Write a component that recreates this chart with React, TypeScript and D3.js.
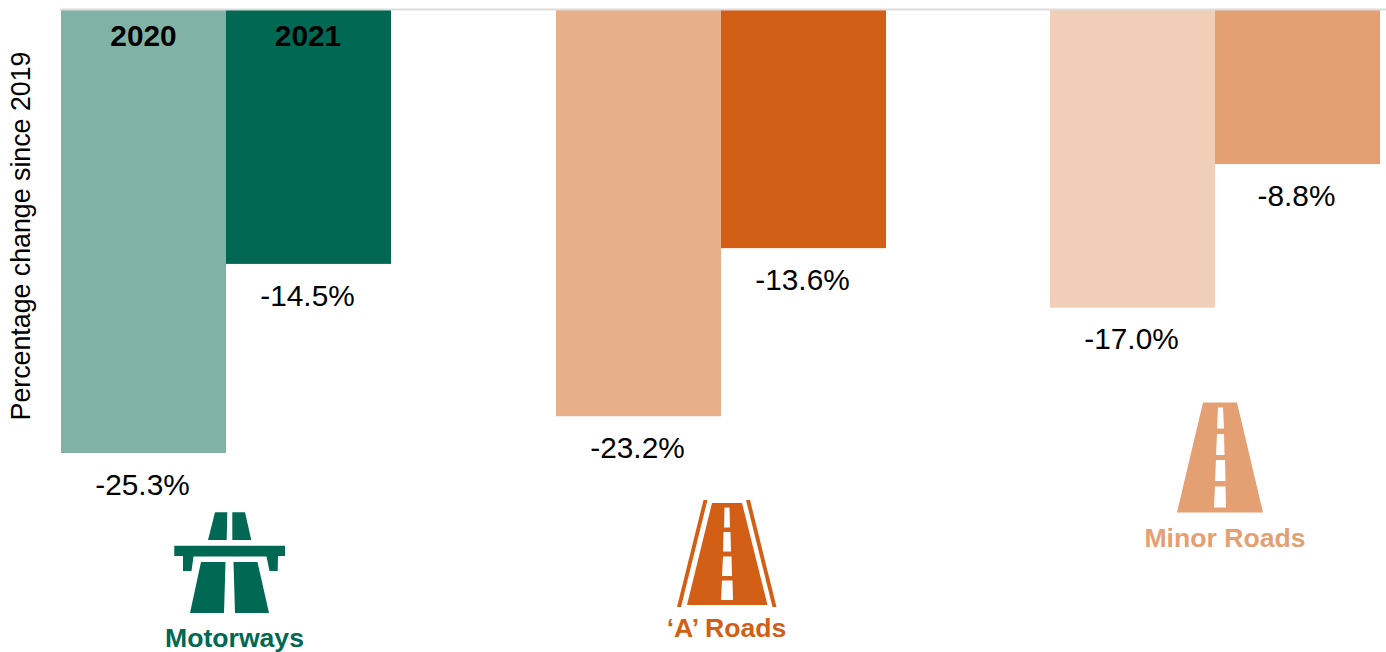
import React from "react";
import * as d3 from "d3";

const W = 1386, H = 652;
const roadTypes = ["Motorways", "‘A’ Roads", "Minor Roads"];
const values2020 = [-25.3, -23.2, -17.0];
const values2021 = [-14.5, -13.6, -8.8];
const colors2020 = ["#80b3a6", "#e7af8a", "#f0ceb7"];
const colors2021 = ["#016853", "#d25f15", "#e4a072"];
const labelColors = ["#016853", "#d25f15", "#e4a072"];
const years = ["2020", "2021"];
const FONT = "'Liberation Sans', Arial, sans-serif";

const x0 = d3.scaleBand<string>().domain(roadTypes).range([61, 1545]).paddingInner(0).paddingOuter(0);
const barW = 165;
const y = d3.scaleLinear().domain([0, -25.3]).range([10, 453]);

const poly = (pts: number[][]) => "M" + pts.map(p => p.join(",")).join("L") + "Z";

function MotorwayIcon({ color }: { color: string }) {
  const shapes = [
    [[65, 12.3], [77.3, 12.3], [76.7, 40], [58, 40]],
    [[82.3, 12.3], [95, 12.3], [101.3, 40], [82.3, 40]],
    [[24.3, 45.7], [135, 45.7], [135, 56], [128, 56], [127.7, 71], [119.5, 71], [116.5, 56.5], [43.5, 56.5], [41.5, 71], [33, 71], [33, 56], [24.3, 56]],
    [[51, 62], [75.5, 62], [74, 113], [40, 113]],
    [[83.5, 62], [107.5, 62], [119, 113], [85, 113]],
  ];
  return <g transform="translate(150,500)">{shapes.map((s, i) => <path key={i} d={poly(s)} fill={color} />)}</g>;
}

function ARoadIcon({ color }: { color: string }) {
  const dashes = [
    [[74.5, 17.5], [79.5, 17.5], [80, 37.5], [74, 37.5]],
    [[73.5, 42], [80.5, 42], [81, 61.5], [73, 61.5]],
    [[73, 66.5], [81.5, 66.5], [82, 86], [72, 86]],
    [[72, 90.5], [82.5, 90.5], [83, 110], [71, 110]],
  ];
  const road = [[62, 13], [92, 13], [117.5, 115], [37, 115]];
  return (
    <g transform="translate(650,490)">
      <path d={poly(road)} fill={color} />
      {dashes.map((s, i) => <path key={i} d={poly(s)} fill="#fff" />)}
      <path d={poly([[53.5, 10], [57.5, 10], [31, 117], [27, 117]])} fill={color} />
      <path d={poly([[96, 10], [100, 10], [126.5, 117], [122.5, 117]])} fill={color} />
    </g>
  );
}

function MinorRoadIcon({ color }: { color: string }) {
  const dashes = [
    [[78, 12.5], [83, 12.5], [84, 33.5], [77, 33.5]],
    [[77, 39], [84, 39], [84.5, 60], [76, 60]],
    [[76, 65], [85, 65], [85.5, 86], [75, 86]],
    [[75, 91.5], [85.5, 91.5], [86, 112.5], [74, 112.5]],
  ];
  return (
    <g transform="translate(1140,395)">
      <path d={poly([[63, 7.5], [97, 7.5], [123, 117.5], [37, 117.5]])} fill={color} />
      {dashes.map((s, i) => <path key={i} d={poly(s)} fill="#fff" />)}
    </g>
  );
}

const icons = [MotorwayIcon, ARoadIcon, MinorRoadIcon];
const nameX = [234.5, 726.5, 1225];
const nameY = [647, 637, 547];

export default function App() {
  return (
    <svg width={W} height={H} style={{ position: "absolute", left: 0, top: 0, background: "#fff" }} fontFamily={FONT}>
      <text transform={`translate(30,236) rotate(-90)`} textAnchor="middle" fontSize={26.75} fill="#000">Percentage change since 2019</text>
      {roadTypes.map((r, i) => {
        const gx = Math.round(x0(r)!);
        const Icon = icons[i];
        return (
          <g key={r}>
            <rect x={gx} y={y(0)} width={barW} height={y(values2020[i]) - y(0)} fill={colors2020[i]} />
            <rect x={gx + barW} y={y(0)} width={barW} height={y(values2021[i]) - y(0)} fill={colors2021[i]} />
            <text x={gx + barW / 2 - 1} y={y(values2020[i]) + 41.5} textAnchor="middle" fontSize={29.8} fill="#000">{values2020[i].toFixed(1)}%</text>
            <text x={gx + barW * 1.5 - 1} y={y(values2021[i]) + 42} textAnchor="middle" fontSize={29.8} fill="#000">{values2021[i].toFixed(1)}%</text>
            <Icon color={labelColors[i]} />
            <text x={nameX[i]} y={nameY[i]} textAnchor="middle" fontSize={26.6} fontWeight="bold" fill={labelColors[i]}>{r}</text>
          </g>
        );
      })}
      {years.map((yr, i) => (
        <text key={yr} x={61 + barW * (i + 0.5) - i * 0.5} y={46} textAnchor="middle" fontSize={29.8} fontWeight="bold" fill="#000">{yr}</text>
      ))}
      <line x1={60} x2={W} y1={9.5} y2={9.5} stroke="#dcdcdc" strokeWidth={2} />
    </svg>
  );
}
